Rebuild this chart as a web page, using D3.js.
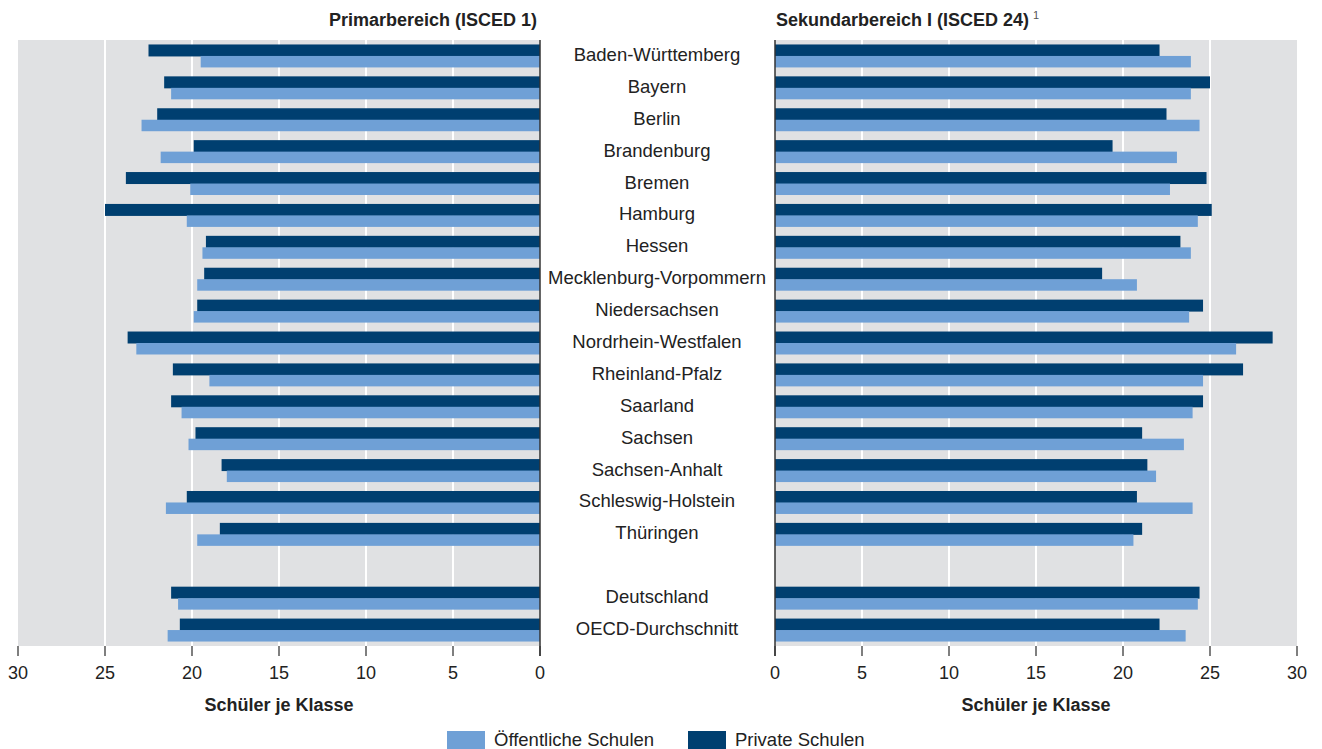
<!DOCTYPE html>
<html>
<head>
<meta charset="utf-8">
<script src="https://cdn.jsdelivr.net/npm/d3@7"></script>
<style>
  body { margin: 0; background: #fff; }
  svg { display: block; font-family: "Liberation Sans", Arial, sans-serif; }
</style>
</head>
<body>
<script>
// rows, "" is the empty spacer slot before the aggregates
var laender = ["Baden-Württemberg", "Bayern", "Berlin", "Brandenburg", "Bremen", "Hamburg",
  "Hessen", "Mecklenburg-Vorpommern", "Niedersachsen", "Nordrhein-Westfalen", "Rheinland-Pfalz",
  "Saarland", "Sachsen", "Sachsen-Anhalt", "Schleswig-Holstein", "Thüringen", "",
  "Deutschland", "OECD-Durchschnitt"];

// Primarbereich (ISCED 1)
var primOeffentlich = [19.5, 21.2, 22.9, 21.8, 20.1, 20.3, 19.4, 19.7, 19.9, 23.2, 19.0, 20.6, 20.2, 18.0, 21.5, 19.7, null, 20.8, 21.4];
var primPrivat      = [22.5, 21.6, 22.0, 19.9, 23.8, 25.0, 19.2, 19.3, 19.7, 23.7, 21.1, 21.2, 19.8, 18.3, 20.3, 18.4, null, 21.2, 20.7];

// Sekundarbereich I (ISCED 24)
var sekOeffentlich = [23.9, 23.9, 24.4, 23.1, 22.7, 24.3, 23.9, 20.8, 23.8, 26.5, 24.6, 24.0, 23.5, 21.9, 24.0, 20.6, null, 24.3, 23.6];
var sekPrivat      = [22.1, 25.0, 22.5, 19.4, 24.8, 25.1, 23.3, 18.8, 24.6, 28.6, 26.9, 24.6, 21.1, 21.4, 20.8, 21.1, null, 24.4, 22.1];

var tickValues = [0, 5, 10, 15, 20, 25, 30];
var legendItems = ["Öffentliche Schulen", "Private Schulen"];

var W = 1322, H = 749;
var colPublic = "#6fa0d6", colPrivate = "#003f70", colBg = "#e0e1e3", colText = "#222";
var plotTop = 40, plotBottom = 646;

var svg = d3.select("body").append("svg").attr("width", W).attr("height", H);

var y = d3.scaleBand().domain(d3.range(laender.length)).range([plotTop, plotBottom])
  .paddingInner(0.28).paddingOuter(0.14);
var sub = d3.scaleBand().domain(["privat", "oeff"]).range([0, y.bandwidth()]);

var xLeft = d3.scaleLinear().domain([0, 30]).range([540, 18]);
var xRight = d3.scaleLinear().domain([0, 30]).range([775, 1297]);

function panel(x, oeff, priv, title, titleX, anchor) {
  var g = svg.append("g");
  var x0 = x(0), x30 = x(30);
  g.append("rect").attr("x", Math.min(x0, x30)).attr("y", plotTop)
    .attr("width", Math.abs(x30 - x0)).attr("height", plotBottom - plotTop).attr("fill", colBg);

  g.selectAll(".grid").data([5, 10, 15, 20, 25]).enter().append("line")
    .attr("x1", function(d) { return x(d); }).attr("x2", function(d) { return x(d); })
    .attr("y1", plotTop).attr("y2", plotBottom)
    .attr("stroke", "#fff").attr("stroke-width", 2);

  var rows = laender.map(function(n, i) { return {i: i, o: oeff[i], p: priv[i]}; })
    .filter(function(d) { return d.o != null; });

  g.selectAll(".priv").data(rows).enter().append("rect")
    .attr("x", function(d) { return Math.min(x0, x(d.p)); })
    .attr("y", function(d) { return y(d.i) + sub("privat"); })
    .attr("width", function(d) { return Math.abs(x(d.p) - x0); })
    .attr("height", sub.bandwidth() + 0.5)
    .attr("fill", colPrivate);

  g.selectAll(".oeff").data(rows).enter().append("rect")
    .attr("x", function(d) { return Math.min(x0, x(d.o)); })
    .attr("y", function(d) { return y(d.i) + sub("oeff"); })
    .attr("width", function(d) { return Math.abs(x(d.o) - x0); })
    .attr("height", sub.bandwidth())
    .attr("fill", colPublic);

  // ticks
  g.selectAll(".tick").data(tickValues).enter().append("line")
    .attr("x1", function(d) { return x(d); }).attr("x2", function(d) { return x(d); })
    .attr("y1", plotBottom).attr("y2", plotBottom + 10)
    .attr("stroke", "#555").attr("stroke-width", 1.5);
  g.selectAll(".tl").data(tickValues).enter().append("text")
    .attr("x", function(d) { return x(d); }).attr("y", 679)
    .attr("text-anchor", "middle").attr("font-size", 18).attr("fill", colText)
    .text(function(d) { return d; });

  // zero line
  g.append("line").attr("x1", x0).attr("x2", x0).attr("y1", plotTop).attr("y2", plotBottom + 10)
    .attr("stroke", "#333").attr("stroke-width", 1.5);

  g.append("text").attr("x", (x0 + x30) / 2).attr("y", 711)
    .attr("text-anchor", "middle").attr("font-size", 18).attr("font-weight", "bold")
    .attr("fill", colText).text("Schüler je Klasse");

  var t = g.append("text").attr("x", titleX).attr("y", 26).attr("text-anchor", anchor)
    .attr("font-size", 18).attr("font-weight", "bold").attr("fill", colText);
  t.append("tspan").text(title);
  return t;
}

panel(xLeft, primOeffentlich, primPrivat, "Primarbereich (ISCED 1)", 537, "end");
var t2 = panel(xRight, sekOeffentlich, sekPrivat, "Sekundarbereich I (ISCED 24)", 776, "start");
t2.append("tspan").attr("font-size", 11).attr("font-weight", "normal").attr("fill", "#555")
  .attr("dx", 4).attr("dy", -7).text("1");

// category labels
svg.selectAll(".lab").data(laender).enter().append("text")
  .attr("x", 657).attr("y", function(d, i) { return y(i) + y.bandwidth() / 2 + 5; })
  .attr("text-anchor", "middle").attr("font-size", 18.5).attr("fill", colText)
  .text(function(d) { return d; });

// legend
var leg = svg.append("g");
var legX = [447, 688], legCol = [colPublic, colPrivate];
legendItems.forEach(function(name, i) {
  leg.append("rect").attr("x", legX[i]).attr("y", 731).attr("width", 38).attr("height", 18).attr("fill", legCol[i]);
  leg.append("text").attr("x", legX[i] + 47).attr("y", 746).attr("font-size", 18.5).attr("fill", colText).text(name);
});
</script>
</body>
</html>
